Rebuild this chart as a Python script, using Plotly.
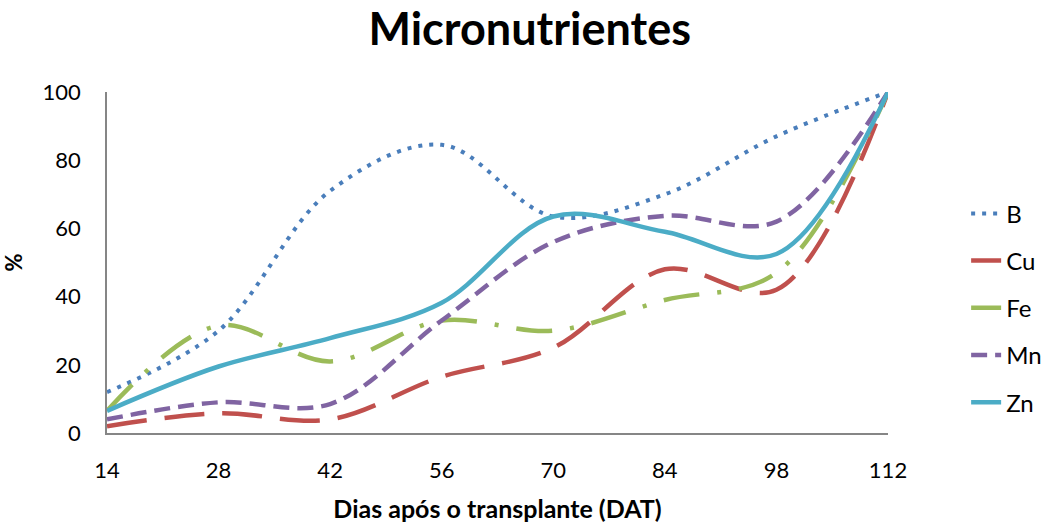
import plotly.graph_objects as go

days = [14, 28, 42, 56, 70, 84, 98, 112]
B = [12, 30, 71, 84.5, 63.5, 70, 87, 100]
Cu = [2, 5.8, 4, 16.5, 25, 48, 42, 100]
Fe = [6.5, 31.5, 21, 33, 30, 39, 47, 100]
Mn = [4, 9, 8.5, 33, 56, 63.7, 62, 100]
Zn = [6.5, 19.5, 27.8, 38.2, 63.5, 59, 52.5, 100]

series = [
    ("B", B, "#4A7EBB", "4px,7px", 4),
    ("Cu", Cu, "#C0504D", "40px,18px", 4.5),
    ("Fe", Fe, "#9BBB59", "36px,18px,4px,18px", 4.5),
    ("Mn", Mn, "#8064A2", "16px,8px", 4.5),
    ("Zn", Zn, "#4BACC6", "solid", 4.5),
]

FONT = "Lato"
fig = go.Figure()
for name, vals, color, dash, w in series:
    fig.add_trace(go.Scatter(
        x=days, y=vals, name=name, mode="lines",
        line=dict(color=color, width=w, dash=dash, shape="spline", smoothing=1),
        legendgroup=name,
    ))

fig.update_layout(
    width=1049, height=528,
    paper_bgcolor="white", plot_bgcolor="white",
    margin=dict(l=107, r=161, t=92, b=95),
    title=dict(text="<b>Micronutrientes</b>", x=0.505, xanchor="center", y=0.945, yanchor="middle",
               font=dict(family=FONT, size=45, color="black")),
    font=dict(family=FONT, size=22, color="black"),
    showlegend=True,
    legend=dict(xref="container", yref="container", x=0.921, xanchor="left", y=0.417, yanchor="middle",
                font=dict(family=FONT, size=24, color="black"),
                tracegroupgap=13, traceorder="grouped", bgcolor="rgba(0,0,0,0)"),
    xaxis=dict(range=[14, 112], tickvals=days, ticktext=[str(d) for d in days], automargin=False,
               showgrid=False, zeroline=False, showline=True, linecolor="#868686", linewidth=1.5,
               ticks="", ticklabelstandoff=17,
               title=dict(text="<b>Dias após o transplante (DAT)</b>", font=dict(family=FONT, size=25), standoff=18),
               tickfont=dict(family=FONT, size=22)),
    yaxis=dict(range=[0, 100], tickvals=[0, 20, 40, 60, 80, 100], automargin=False,
               showgrid=False, zeroline=False, showline=True, linecolor="#868686", linewidth=1.5,
               ticks="", ticklabelstandoff=20,
               title=dict(text="<b>%</b>", font=dict(family=FONT, size=22), standoff=18),
               tickfont=dict(family=FONT, size=22)),
)

fig.write_html("out.html", config={"displayModeBar": False},
               post_script="document.body.style.margin='0';document.body.style.padding='0';")
